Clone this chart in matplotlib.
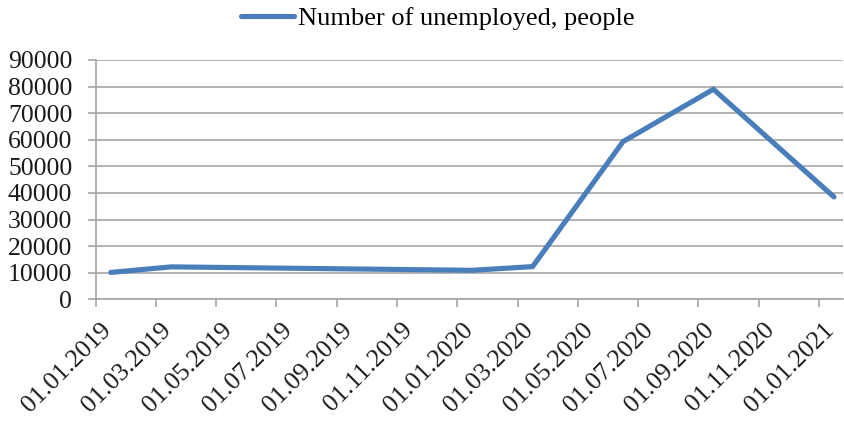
import matplotlib
matplotlib.use("Agg")
import matplotlib.pyplot as plt
import matplotlib.transforms as mtransforms

# Data (month index since Jan 2019; points plotted at the middle of each month slot)
months = [0, 2, 12, 14, 17, 20, 24]
values = [10100, 12200, 10900, 12300, 59300, 79000, 38500]
series_name = "Number of unemployed, people"
tick_labels = ["01.01.2019", "01.03.2019", "01.05.2019", "01.07.2019", "01.09.2019",
               "01.11.2019", "01.01.2020", "01.03.2020", "01.05.2020", "01.07.2020",
               "01.09.2020", "01.11.2020", "01.01.2021"]
y_ticks = list(range(0, 90001, 10000))

plt.rcParams['font.family'] = ['Liberation Serif', 'DejaVu Serif']

fig = plt.figure(figsize=(8.44, 4.21), dpi=100)
W, H = 844, 421
left, right, top, bottom = 95.7, 843.3, 60.0, 299.3
ax = fig.add_axes([left / W, 1 - bottom / H, (right - left) / W, (bottom - top) / H])

grid_col = "#A6A6A6"
line_col = "#4A7EBB"

x = [m + 0.5 for m in months]
line, = ax.plot(x, values, color=line_col, lw=3.7, solid_capstyle='round',
                solid_joinstyle='miter', label=series_name, zorder=3)

ax.set_xlim(0, 24.81)
ax.set_ylim(0, 90000)
ax.set_yticks(y_ticks)
ax.set_yticklabels([str(v) for v in y_ticks], fontsize=18.5, color="#1a1a1a")
ax.yaxis.grid(True, color=grid_col, lw=1.2)
ax.set_axisbelow(True)

xt = list(range(0, 25, 2))
ax.set_xticks(xt)
ax.set_xticklabels([])
offset = mtransforms.ScaledTranslation(12 / 100, -27.5 / 100, fig.dpi_scale_trans)
trans = ax.get_xaxis_transform() + offset
for pos, lab in zip(xt, tick_labels):
    ax.text(pos, 0, lab, transform=trans, rotation=45, ha='right', va='center',
            rotation_mode='anchor', fontsize=18.5, color="#1a1a1a", clip_on=False)

for s in ['top', 'right']:
    ax.spines[s].set_visible(False)
for s in ['left', 'bottom']:
    ax.spines[s].set_color(grid_col)
    ax.spines[s].set_linewidth(1.2)

ax.tick_params(axis='y', length=5.8, width=1.2, color=grid_col, pad=11)
ax.tick_params(axis='x', length=5.8, width=1.2, color=grid_col)

fig.legend(handles=[line], loc='center', bbox_to_anchor=(0.519, 0.957),
           frameon=False, fontsize=19, handlelength=2.0, handletextpad=0.15,
           borderaxespad=0)

fig.savefig("out.png", dpi=100)
